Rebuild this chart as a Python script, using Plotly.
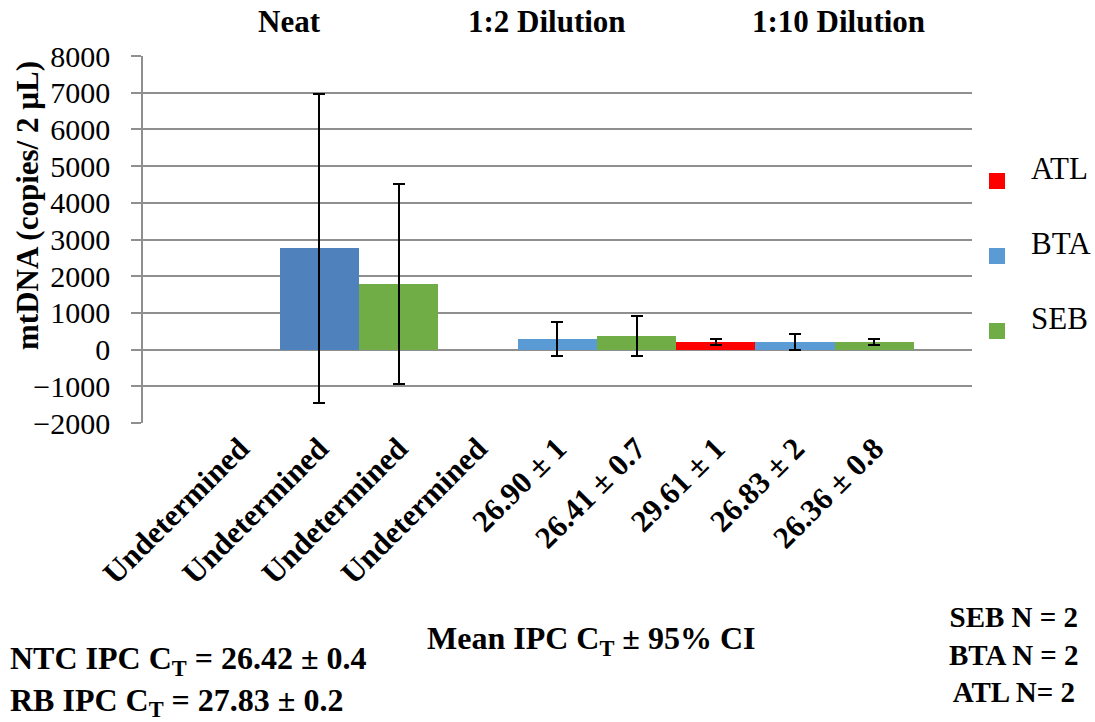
import plotly.graph_objects as go

# ---- data ----
groups = ["Neat", "1:2 Dilution", "1:10 Dilution"]
series = ["ATL", "BTA", "SEB"]
tick_labels = ["Undetermined", "Undetermined", "Undetermined", "Undetermined",
               "26.90 ± 1", "26.41 ± 0.7", "29.61 ± 1", "26.83 ± 2", "26.36 ± 0.8"]
atl_vals = [None, None, 210]
atl_err = [0, 0, 90]
bta_vals = [2760, 290, 210]
bta_err = [4210, 465, 220]
seb_vals = [1780, 375, 210]
seb_err = [2730, 540, 75]

legend_colors = ["#FF0000", "#5B9BD5", "#70AD47"]
bar_colors = {
    "ATL": ["#FF0000", "#FF0000", "#FF0000"],
    "BTA": ["#4F81BD", "#5B9BD5", "#5B9BD5"],
    "SEB": ["#70AD47", "#70AD47", "#70AD47"],
}
values = {"ATL": atl_vals, "BTA": bta_vals, "SEB": seb_vals}
errors = {"ATL": atl_err, "BTA": bta_err, "SEB": seb_err}

FONT = "Liberation Serif, Times New Roman, serif"

fig = go.Figure()
for si, s in enumerate(series):
    xs = [gi * len(series) + si for gi in range(len(groups))]
    fig.add_trace(go.Bar(
        x=xs, y=values[s], width=1.0, name=s,
        marker=dict(color=bar_colors[s], line=dict(width=0)),
        error_y=dict(type="data", array=errors[s], arrayminus=errors[s],
                     color="black", thickness=2, width=6, visible=True),
        showlegend=False,
    ))

GRID = "#8F8F8F"
fig.update_layout(
    width=1095, height=722,
    margin=dict(l=143, r=123, t=56, b=299),
    paper_bgcolor="white", plot_bgcolor="white",
    barmode="overlay", bargap=0,
    font=dict(family=FONT, color="black", size=30),
    showlegend=False,
)
fig.update_xaxes(
    range=[-1.223, 9.23], tickmode="array",
    tickvals=list(range(len(tick_labels))), ticktext=tick_labels,
    tickangle=-45, tickfont=dict(family=FONT, size=31, weight="bold", color="black"),
    showgrid=False, showline=False, zeroline=False, ticks="",
)
fig.update_yaxes(
    range=[-2000, 8000], dtick=1000, tick0=0,
    showgrid=True, gridcolor=GRID, gridwidth=1.5,
    showline=True, linecolor=GRID, linewidth=1.5,
    ticks="outside", ticklen=10, tickcolor=GRID, tickwidth=1.5,
    zeroline=False, tickfont=dict(family=FONT, size=30, color="black"),
    ticklabelstandoff=15,
)

# pixel helpers for annotation placement (plot area: x 143..972, y 56..423)
def px(xp):
    return (xp - 143) / 829.0
def py(yp):
    return (423 - yp) / 367.0

annos = []
header_x = [289, 547, 838]
for g, hx in zip(groups, header_x):
    annos.append(dict(text=f"<b>{g}</b>", x=px(hx), y=py(22), xref="paper", yref="paper",
                      showarrow=False, xanchor="center", yanchor="middle",
                      font=dict(size=31, family=FONT)))

annos.append(dict(text="<b>mtDNA (copies/ 2 µL)</b>", x=px(27), y=py(206), xref="paper", yref="paper",
                  showarrow=False, textangle=-90, xanchor="center", yanchor="middle",
                  font=dict(size=31, family=FONT)))

annos.append(dict(text="<b>Mean IPC C<sub>T</sub> ± 95% CI</b>", x=px(425), y=py(640), xref="paper", yref="paper",
                  showarrow=False, xanchor="left", yanchor="middle", font=dict(size=32, family=FONT)))
annos.append(dict(text="<b>NTC IPC C<sub>T</sub> = 26.42 ± 0.4<br>RB IPC C<sub>T</sub> = 27.83 ± 0.2</b>",
                  x=px(8), y=py(681), xref="paper", yref="paper", align="left",
                  showarrow=False, xanchor="left", yanchor="middle", font=dict(size=32, family=FONT)))
annos.append(dict(text="<b>SEB N = 2<br>BTA N = 2<br>ATL N= 2</b>", x=px(1014), y=py(654),
                  xref="paper", yref="paper", align="center",
                  showarrow=False, xanchor="center", yanchor="middle", font=dict(size=29, family=FONT)))

# manual legend
shapes = []
for i, (s, c) in enumerate(zip(series, legend_colors)):
    yc = 181 + 75 * i
    shapes.append(dict(type="rect", xref="paper", yref="paper",
                       x0=px(989), x1=px(1005), y0=py(yc + 8), y1=py(yc - 8),
                       fillcolor=c, line=dict(width=0)))
    annos.append(dict(text=s, x=px(1029), y=py(yc - 13), xref="paper", yref="paper",
                      showarrow=False, xanchor="left", yanchor="middle",
                      font=dict(size=31, family=FONT)))

fig.update_layout(annotations=annos, shapes=shapes)
fig.write_html("out.html")
